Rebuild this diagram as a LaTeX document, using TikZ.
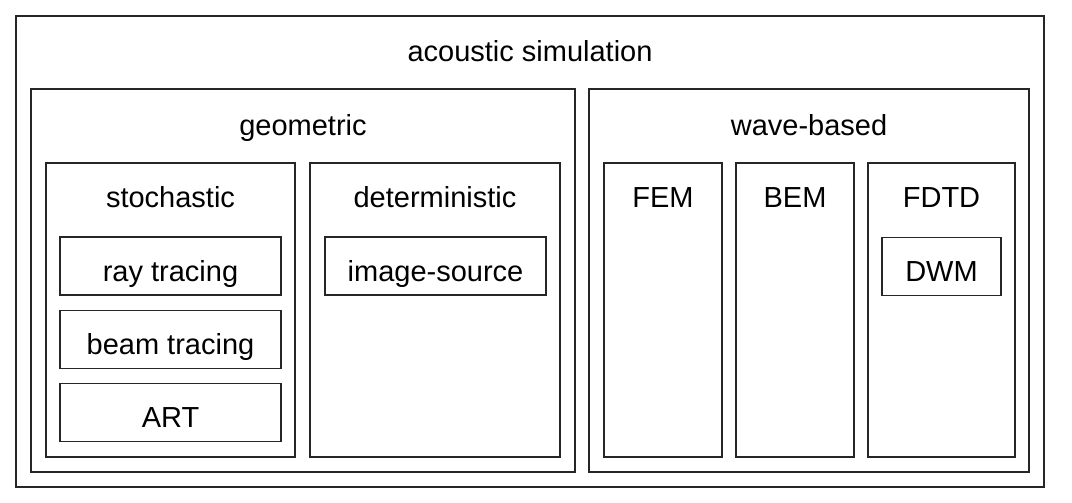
\documentclass[tikz,border=0pt]{standalone}
\usepackage{fontspec}
\setmainfont{Liberation Sans}

\tikzset{
  box/.style 2 args={draw=black!85, line width=0.9pt, inner sep=0pt,
    minimum width=#1*0.5pt, minimum height=#2*0.5pt},
  leaf/.style={text height=15pt, text depth=0pt,
    font=\fontsize{14.5}{17}\selectfont},
  title/.style={anchor=base, inner sep=0pt,
    font=\fontsize{14.5}{17}\selectfont}
}

\begin{document}
\begin{tikzpicture}[x=0.5pt,y=-0.5pt]
  \useasboundingbox (0,0) rectangle (1072,503);

  % outer frame
  \node[box={1028}{471}] (sim) at (530,251.5) {};
  \node[title] (simtxt) at ([yshift=-23pt]sim.north) {acoustic simulation};

  % geometric methods
  \node[box={544}{383}] (geo) at (303,280.5) {};
  \node[title] (geotxt) at ([yshift=-23.5pt]geo.north) {geometric};

  \node[box={249}{294}] (stoch) at (170.5,310) {};
  \node[title] (stochtxt) at ([yshift=-22.5pt]stoch.north) {stochastic};
  \node[box={221}{58},leaf] (ray) at (170.5,266) {ray tracing};
  \node[box={221}{58},leaf] (beam) at (170.5,339.5) {beam tracing};
  \node[box={221}{58},leaf] (art) at (170.5,412.5) {ART};

  \node[box={250}{294}] (det) at (435,310) {};
  \node[title] (dettxt) at ([yshift=-22.5pt]det.north) {deterministic};
  \node[box={221}{58},leaf] (imgsrc) at (435.5,266) {image-source};

  % wave-based methods
  \node[box={440}{383}] (wave) at (809,280.5) {};
  \node[title] (wavetxt) at ([yshift=-23.5pt]wave.north) {wave-based};

  \node[box={118}{294}] (fem) at (663,310) {};
  \node[title] (femtxt) at ([yshift=-22.5pt]fem.north) {FEM};
  \node[box={118}{294}] (bem) at (795,310) {};
  \node[title] (bemtxt) at ([yshift=-22.5pt]bem.north) {BEM};
  \node[box={147}{294}] (fdtd) at (941.5,310) {};
  \node[title] (fdtdtxt) at ([yshift=-22.5pt]fdtd.north) {FDTD};
  \node[box={119}{58},leaf] (dwm) at (941.5,266.5) {DWM};
\end{tikzpicture}
\end{document}
